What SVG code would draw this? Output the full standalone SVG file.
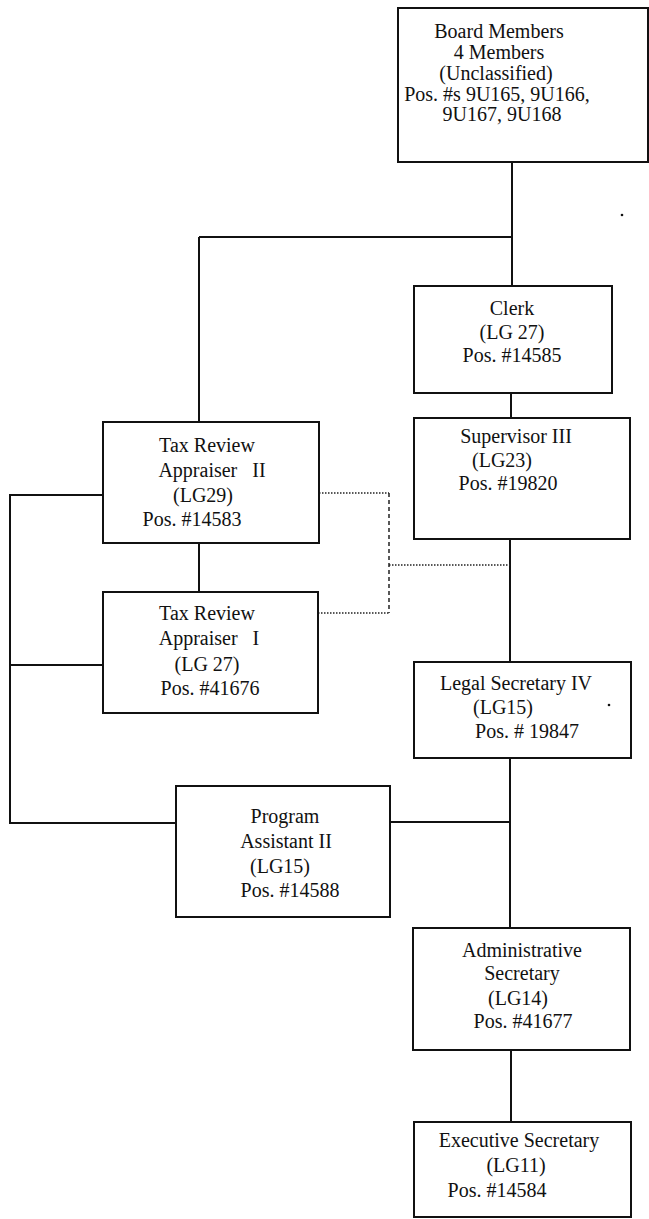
<svg xmlns="http://www.w3.org/2000/svg" width="649" height="1219" viewBox="0 0 649 1219">
<style>
.box{fill:#fff;stroke:#111;stroke-width:2}
.ln{fill:none;stroke:#111;stroke-width:2}
.dot{fill:none;stroke:#222;stroke-width:1.5;stroke-dasharray:1.5 1.5}
.dash{fill:none;stroke:#222;stroke-width:1.5;stroke-dasharray:4 3}
text{font-family:"Liberation Serif","Times New Roman",serif;font-size:20px;fill:#111;text-anchor:middle}
</style>
<rect width="649" height="1219" fill="#fff"/>
<g id="connectors">
<path class="ln" d="M512,162 V286"/>
<path class="ln" d="M199,237 H512"/>
<path class="ln" d="M199,237 V422"/>
<path class="ln" d="M511,393 V418"/>
<path class="ln" d="M199,543 V592"/>
<path class="ln" d="M510,539 V662"/>
<path class="ln" d="M510,758 V928"/>
<path class="ln" d="M511,1050 V1122"/>
<path class="ln" d="M103,495 H10 V823 H176"/>
<path class="ln" d="M10,665 H103"/>
<path class="ln" d="M390,822 H510"/>
<path class="dot" d="M319,493 H389"/>
<path class="dot" d="M318,613 H389"/>
<path class="dash" d="M389,493 V613"/>
<path class="dot" d="M389,565 H510"/>
</g>
<g id="board">
<rect class="box" x="398" y="8" width="250" height="154"/>
<text x="499" y="38">Board Members</text>
<text x="499" y="59">4 Members</text>
<text x="496" y="80">(Unclassified)</text>
<text x="497" y="101">Pos. #s 9U165, 9U166,</text>
<text x="502" y="121">9U167, 9U168</text>
</g>
<g id="clerk">
<rect class="box" x="414" y="286" width="198" height="107"/>
<text x="512" y="315">Clerk</text>
<text x="512" y="339">(LG 27)</text>
<text x="512" y="362">Pos. #14585</text>
</g>
<g id="supervisor">
<rect class="box" x="414" y="418" width="216" height="121"/>
<text x="516" y="443">Supervisor III</text>
<text x="502" y="467">(LG23)</text>
<text x="508" y="490">Pos. #19820</text>
</g>
<g id="tax2">
<rect class="box" x="103" y="422" width="216" height="121"/>
<text x="207" y="452">Tax Review</text>
<text x="212" y="477">Appraiser&#160;&#160; II</text>
<text x="203" y="502">(LG29)</text>
<text x="192" y="526">Pos. #14583</text>
</g>
<g id="tax1">
<rect class="box" x="103" y="592" width="215" height="121"/>
<text x="207" y="620">Tax Review</text>
<text x="209" y="645">Appraiser&#160;&#160; I</text>
<text x="207" y="671">(LG 27)</text>
<text x="210" y="695">Pos. #41676</text>
</g>
<g id="legal">
<rect class="box" x="414" y="662" width="217" height="96"/>
<text x="516" y="690">Legal Secretary IV</text>
<text x="503" y="714">(LG15)</text>
<text x="527" y="738">Pos. # 19847</text>
<circle cx="609" cy="705" r="1.3" fill="#111"/>
</g>
<g id="program">
<rect class="box" x="176" y="786" width="214" height="131"/>
<text x="285" y="823">Program</text>
<text x="286" y="848">Assistant II</text>
<text x="280" y="873">(LG15)</text>
<text x="290" y="897">Pos. #14588</text>
</g>
<g id="admin">
<rect class="box" x="413" y="928" width="217" height="122"/>
<text x="522" y="957">Administrative</text>
<text x="522" y="980">Secretary</text>
<text x="518" y="1005">(LG14)</text>
<text x="523" y="1028">Pos. #41677</text>
</g>
<g id="exec">
<rect class="box" x="414" y="1122" width="217" height="95"/>
<text x="519" y="1147">Executive Secretary</text>
<text x="516" y="1172">(LG11)</text>
<text x="497" y="1197">Pos. #14584</text>
</g>
<circle cx="622" cy="215" r="1.3" fill="#111"/>
</svg>
